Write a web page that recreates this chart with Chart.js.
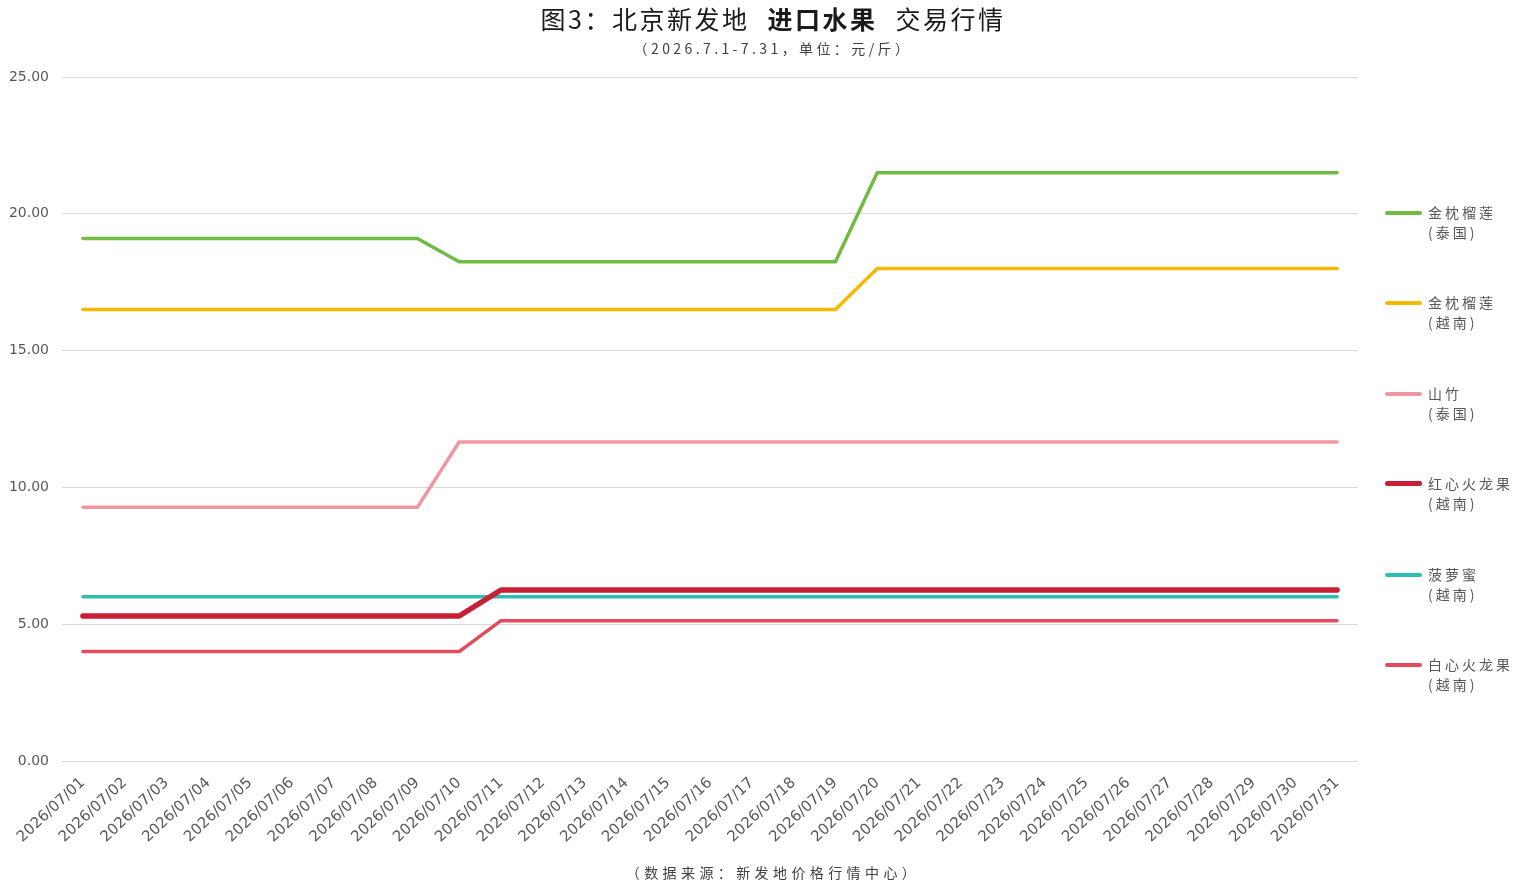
<!DOCTYPE html>
<html>
<head>
<meta charset="utf-8">
<script src="https://cdn.jsdelivr.net/npm/chart.js@4"></script>
<style>
  html, body { margin:0; padding:0; background:#fff; }
  #wrap { position:relative; width:1533px; height:886px; overflow:hidden; }
  canvas { position:absolute; left:0; top:0; }
  .title { position:absolute; left:0; width:1546px; top:0px; text-align:center; font-family:"Noto Sans CJK SC","Noto Sans",sans-serif; font-size:25px; color:#1a1a1a; letter-spacing:2.5px; white-space:pre; }
  .title b { font-weight:700; }
  .title .gap { display:inline-block; width:18px; }
  .sub { position:absolute; left:0; width:1546px; top:38px; text-align:center; font-family:"Noto Sans CJK SC",sans-serif; font-size:14px; color:#404040; letter-spacing:3.4px; }
  .src { position:absolute; left:0; width:1546px; top:862px; text-align:center; font-family:"Noto Sans CJK SC",sans-serif; font-size:14px; color:#404040; letter-spacing:4.4px; }
  #legend { position:absolute; left:1385px; top:0; }
  .li { position:absolute; left:0; width:150px; font-family:"Noto Sans CJK SC",sans-serif; font-size:14px; color:#595959; letter-spacing:3px; line-height:20px; }
  .li span.sw { position:absolute; left:0; top:9px; width:37px; border-radius:2px; }
  .li div.t { position:absolute; left:43px; top:0; white-space:nowrap; }
</style>
</head>
<body>
<div id="wrap">
  <canvas id="c" width="1533" height="886"></canvas>
  <div class="title">图3：北京新发地<span class="gap"></span><b>进口水果</b><span class="gap"></span>交易行情</div>
  <div class="sub">（2026.7.1-7.31，单位：元/斤）</div>
  <div class="src">（数据来源：新发地价格行情中心）</div>
  <div id="legend"></div>
</div>
<script>
const categories = ["2026/07/01","2026/07/02","2026/07/03","2026/07/04","2026/07/05","2026/07/06","2026/07/07","2026/07/08","2026/07/09","2026/07/10","2026/07/11","2026/07/12","2026/07/13","2026/07/14","2026/07/15","2026/07/16","2026/07/17","2026/07/18","2026/07/19","2026/07/20","2026/07/21","2026/07/22","2026/07/23","2026/07/24","2026/07/25","2026/07/26","2026/07/27","2026/07/28","2026/07/29","2026/07/30","2026/07/31"];

const durianThai = [19.1,19.1,19.1,19.1,19.1,19.1,19.1,19.1,19.1,18.25,18.25,18.25,18.25,18.25,18.25,18.25,18.25,18.25,18.25,21.5,21.5,21.5,21.5,21.5,21.5,21.5,21.5,21.5,21.5,21.5,21.5];
const durianViet = [16.5,16.5,16.5,16.5,16.5,16.5,16.5,16.5,16.5,16.5,16.5,16.5,16.5,16.5,16.5,16.5,16.5,16.5,16.5,18,18,18,18,18,18,18,18,18,18,18,18];
const mangosteenThai = [9.27,9.27,9.27,9.27,9.27,9.27,9.27,9.27,9.27,11.66,11.66,11.66,11.66,11.66,11.66,11.66,11.66,11.66,11.66,11.66,11.66,11.66,11.66,11.66,11.66,11.66,11.66,11.66,11.66,11.66,11.66];
const redDragonViet = [5.3,5.3,5.3,5.3,5.3,5.3,5.3,5.3,5.3,5.3,6.25,6.25,6.25,6.25,6.25,6.25,6.25,6.25,6.25,6.25,6.25,6.25,6.25,6.25,6.25,6.25,6.25,6.25,6.25,6.25,6.25];
const pineappleViet = [6,6,6,6,6,6,6,6,6,6,6,6,6,6,6,6,6,6,6,6,6,6,6,6,6,6,6,6,6,6,6];
const whiteDragonViet = [4,4,4,4,4,4,4,4,4,4,5.13,5.13,5.13,5.13,5.13,5.13,5.13,5.13,5.13,5.13,5.13,5.13,5.13,5.13,5.13,5.13,5.13,5.13,5.13,5.13,5.13];

const seriesNames = [["金枕榴莲","(泰国)"],["金枕榴莲","(越南)"],["山竹","(泰国)"],["红心火龙果","(越南)"],["菠萝蜜","(越南)"],["白心火龙果","(越南)"]];
const yTicks = [0,5,10,15,20,25];

const series = [durianThai, durianViet, mangosteenThai, redDragonViet, pineappleViet, whiteDragonViet];
const colors = ["#72BB43","#F5BA00","#EF96A0","#C91F35","#2FBFB2","#E44B5C"];
const widths = [3.5,3.5,3.5,5.5,3.5,3.5];

const datasets = series.map((d,i)=>({
  label: seriesNames[i].join(""),
  data: d,
  borderColor: colors[i],
  backgroundColor: colors[i],
  borderWidth: widths[i],
  pointRadius: 0,
  tension: 0,
  borderCapStyle: 'round',
  borderJoinStyle: 'round',
  fill: false
}));
datasets[3].order = 0; datasets[4].order = 1;
datasets.forEach(d=>{ if(d.order===undefined) d.order = 2; });

const ctx = document.getElementById('c').getContext('2d');
new Chart(ctx, {
  type: 'line',
  data: { labels: categories, datasets },
  options: {
    responsive: false,
    animation: false,
    devicePixelRatio: 1,
    layout: { padding: { top: 77, right: 175, bottom: 0, left: 0 } },
    plugins: { legend: { display: false }, title: { display: false }, tooltip: { enabled: false } },
    scales: {
      x: {
        offset: true,
        grid: { display: false },
        border: { display: false },
        ticks: { color: '#595959', font: { family: '"DejaVu Sans", sans-serif', size: 15 }, minRotation: 43, maxRotation: 43, autoSkip: false, padding: 5 },
        afterFit: s => { s.height = 125; }
      },
      y: {
        min: 0, max: 25,
        afterBuildTicks: s => { s.ticks = yTicks.map(v=>({value:v})); },
        grid: { color: '#d9d9d9', lineWidth: 1, drawTicks: false },
        border: { display: false },
        ticks: { color: '#595959', font: { family: '"DejaVu Sans", sans-serif', size: 14 }, padding: 13, callback: v => Number(v).toFixed(2) },
        afterFit: s => { s.width = 62; }
      }
    }
  }
});

const lg = document.getElementById('legend');
const legTops = [202, 292, 383, 473, 564, 654];
seriesNames.forEach((n,i)=>{
  const el = document.createElement('div');
  el.className = 'li';
  el.style.top = legTops[i] + 'px';
  const sw = document.createElement('span');
  sw.className = 'sw';
  sw.style.background = colors[i];
  sw.style.height = (i===3 ? 5 : 3.5) + 'px';
  sw.style.top = (i===3 ? 8 : 9) + 'px';
  el.appendChild(sw);
  const t = document.createElement('div');
  t.className = 't';
  t.innerHTML = n[0] + '<br>' + n[1];
  el.appendChild(t);
  lg.appendChild(el);
});
</script>
</body>
</html>
